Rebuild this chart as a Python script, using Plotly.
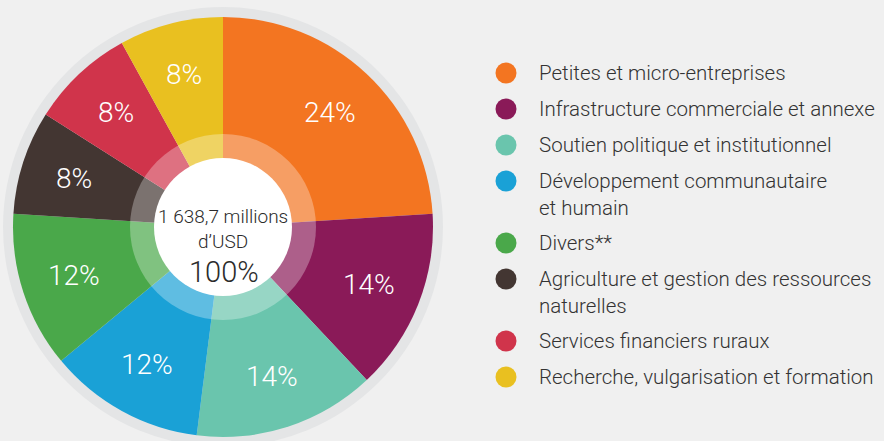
import math
import plotly.graph_objects as go

# Données : part (%) de chaque secteur, dans le sens horaire depuis midi
secteurs = [
    "Petites et micro-entreprises",
    "Infrastructure commerciale et annexe",
    "Soutien politique et institutionnel",
    "Développement communautaire<br>et humain",
    "Divers**",
    "Agriculture et gestion des ressources<br>naturelles",
    "Services financiers ruraux",
    "Recherche, vulgarisation et formation",
]
parts = [24, 14, 14, 12, 12, 8, 8, 8]
couleurs = ["#f37521", "#8a1a58", "#6ac5ad", "#1aa1d6",
            "#4aa84a", "#433632", "#d0344b", "#e9c020"]
total_texte = "1 638,7 millions<br>d’USD"
total_pct = "100%"

W, H = 884, 441
CX, CY, R = 223, 227, 210
FONT = "Roboto"

fig = go.Figure()

# Camembert principal, placé via son domaine (en pixels -> fraction)
fig.add_trace(go.Pie(
    values=parts,
    labels=[s.replace("<br>", " ") for s in secteurs],
    marker=dict(colors=couleurs, line=dict(width=0)),
    sort=False,
    direction="clockwise",
    rotation=0,
    textinfo="none",
    hoverinfo="skip",
    showlegend=False,
    domain=dict(x=[(CX - R) / W, (CX + R) / W],
                y=[(H - CY - R) / H, (H - CY + R) / H]),
))

# Pastilles de légende sur un axe invisible en pixels
pas, extra = 36, 26
y_leg = []
y = 73
for s in secteurs:
    y_leg.append(y)
    y += pas + (extra if "<br>" in s else 0)

fig.add_trace(go.Scatter(
    x=[506] * len(secteurs), y=y_leg, mode="markers",
    marker=dict(size=21, color=couleurs, line=dict(width=0)),
    hoverinfo="skip", showlegend=False,
))

annotations = []
# Pourcentages dans les parts, au milieu angulaire de chaque secteur
cumul = 0
for p in parts:
    theta = math.radians((cumul + p / 2) / sum(parts) * 360)
    cumul += p
    annotations.append(dict(
        x=CX + 157 * math.sin(theta), y=CY - 157 * math.cos(theta),
        xref="x", yref="y", text=f"{p}%", showarrow=False,
        font=dict(family=FONT, size=28, color="white", weight=300),
    ))

# Texte central
annotations.append(dict(x=CX, y=229, xref="x", yref="y", text=total_texte,
                        showarrow=False,
                        font=dict(family=FONT, size=19, color="#2b2b2b", weight=300)))
annotations.append(dict(x=CX + 1, y=272, xref="x", yref="y", text=total_pct,
                        showarrow=False,
                        font=dict(family=FONT, size=29, color="#2b2b2b", weight=300)))

# Libellés de légende
for s, yy in zip(secteurs, y_leg):
    annotations.append(dict(
        x=537, y=yy - 14, xref="x", yref="y", text=s, showarrow=False,
        xanchor="left", yanchor="top", align="left",
        font=dict(family=FONT, size=20.5, color="#333333", weight=300),
    ))

shapes = [
    # anneau gris extérieur
    dict(type="circle", xref="x", yref="y", layer="below",
         x0=CX - 220, x1=CX + 220, y0=CY - 220, y1=CY + 220,
         fillcolor="#e4e5e6", line=dict(width=0)),
    # anneau translucide et disque blanc central
    dict(type="circle", xref="x", yref="y", layer="above",
         x0=CX - 93, x1=CX + 93, y0=CY - 93, y1=CY + 93,
         fillcolor="rgba(255,255,255,0.3)", line=dict(width=0)),
    dict(type="circle", xref="x", yref="y", layer="above",
         x0=CX - 69, x1=CX + 69, y0=CY - 69, y1=CY + 69,
         fillcolor="white", line=dict(width=0)),
]

fig.update_layout(
    width=W, height=H,
    margin=dict(l=0, r=0, t=0, b=0),
    paper_bgcolor="#f0f0f0",
    plot_bgcolor="rgba(0,0,0,0)",
    xaxis=dict(range=[0, W], visible=False, fixedrange=True),
    yaxis=dict(range=[H, 0], visible=False, fixedrange=True),
    annotations=annotations,
    shapes=shapes,
)

# marge par défaut du <body> retirée pour que la figure colle au cadre
fig.write_html("out.html", config={"displayModeBar": False},
               post_script="document.body.style.margin='0';")
